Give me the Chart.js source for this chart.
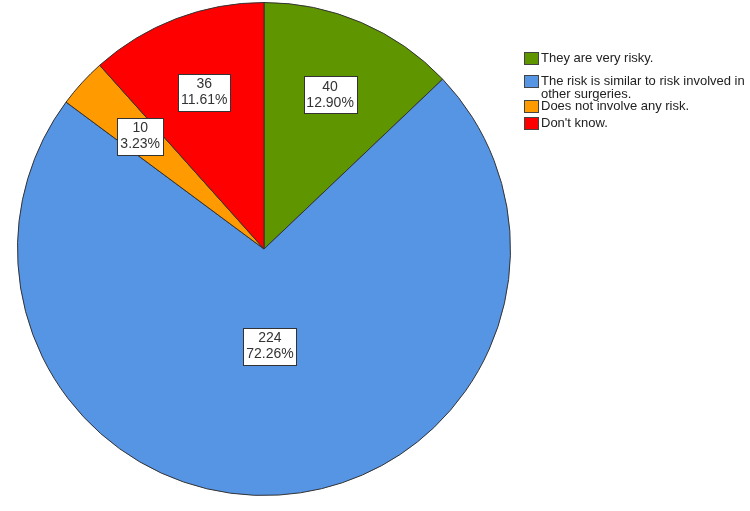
<!DOCTYPE html>
<html>
<head>
<meta charset="utf-8">
<script src="https://cdn.jsdelivr.net/npm/chart.js@4.4.0/dist/chart.umd.min.js"></script>
<style>
  html, body { margin: 0; padding: 0; background: #fff; }
  #wrap { position: relative; width: 750px; height: 511px; }
</style>
</head>
<body>
<div id="wrap"><canvas id="pieChart"></canvas></div>
<script>
// Categories and counts
const categories = [
  "They are very risky.",
  "The risk is similar to risk involved in other surgeries.",
  "Does not involve any risk.",
  "Don't know."
];
const legendLines = [
  ["They are very risky."],
  ["The risk is similar to risk involved in", "other surgeries."],
  ["Does not involve any risk."],
  ["Don't know."]
];
const counts = [40, 224, 10, 36];
const percents = ["12.90%", "72.26%", "3.23%", "11.61%"];
const colors = ["#5f9600", "#5694e4", "#ff9a00", "#ff0000"];

const FONT = '"Liberation Sans", Arial, sans-serif';

// Boxed count/percent labels inside each slice
const sliceLabels = {
  id: 'sliceLabels',
  afterDatasetsDraw(chart) {
    const { ctx } = chart;
    const meta = chart.getDatasetMeta(0);
    ctx.save();
    ctx.font = '14px ' + FONT;
    ctx.textAlign = 'center';
    ctx.textBaseline = 'middle';
    meta.data.forEach((arc, i) => {
      const mid = (arc.startAngle + arc.endAngle) / 2;
      const frac = counts[i] > 100 ? 0.395 : 0.68;
      const r = arc.outerRadius * frac;
      const x = arc.x + Math.cos(mid) * r;
      const y = arc.y + Math.sin(mid) * r;
      const l1 = String(counts[i]), l2 = percents[i];
      const w = Math.round(Math.max(ctx.measureText(l1).width, ctx.measureText(l2).width) + 6);
      const h = 37;
      const bx = Math.round(x - w / 2) + 0.5, by = Math.round(y - h / 2) + 0.5;
      ctx.fillStyle = '#fff';
      ctx.fillRect(bx, by, w, h);
      ctx.strokeStyle = '#333';
      ctx.lineWidth = 1;
      ctx.strokeRect(bx, by, w, h);
      ctx.fillStyle = '#333';
      ctx.fillText(l1, x, y - 8);
      ctx.fillText(l2, x, y + 8);
    });
    ctx.restore();
  }
};

// Legend on the right, drawn by hand
const sideLegend = {
  id: 'sideLegend',
  afterDraw(chart) {
    const { ctx } = chart;
    const rowY = [59, 82, 107, 124];
    ctx.save();
    ctx.font = '13px ' + FONT;
    ctx.textBaseline = 'middle';
    legendLines.forEach((lines, i) => {
      const y = rowY[i];
      ctx.fillStyle = colors[i];
      ctx.fillRect(524.5, y - 6.5, 14, 12);
      ctx.strokeStyle = '#444';
      ctx.lineWidth = 1;
      ctx.strokeRect(524.5, y - 6.5, 14, 12);
      ctx.fillStyle = '#222';
      lines.forEach((t, j) => ctx.fillText(t, 541, y - 1 + j * 13));
    });
    ctx.restore();
  }
};

new Chart(document.getElementById('pieChart'), {
  type: 'pie',
  data: {
    labels: categories,
    datasets: [{
      data: counts,
      backgroundColor: colors,
      borderColor: '#333',
      borderWidth: 1
    }]
  },
  options: {
    responsive: true,
    maintainAspectRatio: false,
    animation: false,
    layout: { padding: { top: 2, left: 17, right: 239, bottom: 15 } },
    plugins: {
      legend: { display: false },
      tooltip: { enabled: false }
    }
  },
  plugins: [sliceLabels, sideLegend]
});
</script>
</body>
</html>
